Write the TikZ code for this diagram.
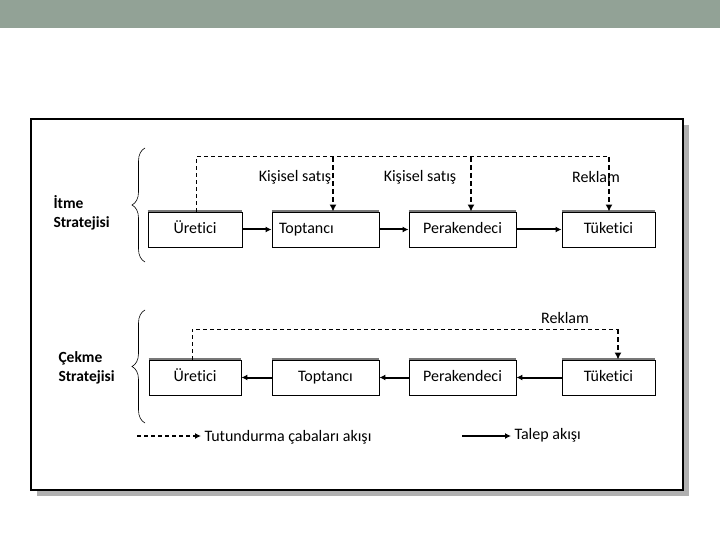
\documentclass[tikz,border=0pt]{standalone}
\usepackage{fontspec}
\setmainfont{Carlito}[Ligatures=NoCommon]
\usetikzlibrary{arrows.meta,decorations.pathreplacing}

\definecolor{bandgray}{RGB}{146,162,150}
\definecolor{shadowgray}{RGB}{176,176,176}
\definecolor{edgegray}{RGB}{120,120,120}

\tikzset{
  kutu/.style={draw=black, line width=0.9pt, fill=white, minimum height=35pt,
    inner sep=0pt, text height=11pt, text depth=3pt, font=\fontsize{16}{18}\selectfont},
  ustkenar/.style={edgegray, line width=2.2pt},
  talep/.style={-{Latex[length=6pt,width=6pt]}, line width=2pt},
  tutun/.style={dashed, dash pattern=on 4pt off 3pt, line width=1pt},
  tutunok/.style={-{Latex[length=7pt,width=7pt]}, dash pattern=on 5pt off 3pt, line width=2.2pt},
  etiket/.style={font=\fontsize{16}{18}\selectfont},
  strateji/.style={font=\bfseries\fontsize{15.5}{19}\selectfont, align=left, anchor=west},
  parantez/.style={decorate, decoration={brace, amplitude=13pt}, line width=0.6pt}
}

\begin{document}
\begin{tikzpicture}[x=1pt, y=-1pt]
	\useasboundingbox (0,0) rectangle (720,540);
	\fill[bandgray] (0,0) rectangle (720,28); % band
	
	% frame with shadow
	\fill[shadowgray] (37,125) rectangle (689,496);
	\draw[fill=white, line width=1.1pt] (31,119) rectangle (683,490);
	
	% itme
	\node[kutu, minimum width=94pt] (u1) at (195,229.5) {Üretici};
	\node[kutu, minimum width=107pt, text width=93pt, align=left] (t1) at (325.5,229.5) {Toptancı};
	\node[kutu, minimum width=107pt] (p1) at (462.5,229.5) {Perakendeci};
	\node[kutu, minimum width=93pt] (k1) at (608.5,229.5) {Tüketici};
	
	% cekme
	\node[kutu, minimum width=92pt] (u2) at (195,377.5) {Üretici};
	\node[kutu, minimum width=107pt] (t2) at (325.5,377.5) {Toptancı};
	\node[kutu, minimum width=107pt] (p2) at (462.5,377.5) {Perakendeci};
	\node[kutu, minimum width=93pt] (k2) at (608.5,377.5) {Tüketici};
	
	\foreach \n in {u1,t1,p1,k1,u2,t2,p2,k2}
		\draw[ustkenar] ([yshift=0.6pt]\n.north west) -- ([yshift=0.6pt]\n.north east);
	
	% talep akisi
	\draw[talep] (u1) -- (t1);
	\draw[talep] (t1) -- (p1);
	\draw[talep] (p1) -- (k1);
	\draw[talep] (t2) -- (u2);
	\draw[talep] (p2) -- (t2);
	\draw[talep] (k2) -- (p2);
	
	% tutundurma (itme)
	\coordinate (d1) at (333,157);
	\coordinate (d2) at (471,157);
	\coordinate (d3) at (609,157);
	\draw[tutun] ([xshift=1pt]u1.north) |- (d3);
	\draw[tutunok] (d1) -- (d1 |- t1.north);
	\draw[tutunok] (d2) -- (d2 |- p1.north);
	\draw[tutunok] (d3) -- (d3 |- k1.north);
	\node[etiket] (ks1) at (295,177) {Kişisel satış};
	\node[etiket] (ks2) at (420,177) {Kişisel satış};
	\node[etiket] (r1) at (596,177) {Reklam};
	
	% tutundurma (cekme)
	\coordinate (d4) at (618,329);
	\draw[tutun] ([xshift=-3pt]u2.north) |- (d4);
	\draw[tutunok] (d4) -- (d4 |- k2.north);
	\node[etiket] (r2) at (565,318) {Reklam};
	
	% parantezler
	\draw[parantez] (145,262) -- (145,148);
	\draw[parantez] (145,423) -- (145,310);
	\node[strateji] (itme) at (50,213) {İtme\\Stratejisi};
	\node[strateji] (cekme) at (55,368) {Çekme\\Stratejisi};
	
	% legend
	\node[etiket, anchor=west] (lg1) at (201,437) {Tutundurma çabaları akışı};
	\node[etiket, anchor=west] (lg2) at (511,435) {Talep akışı};
	\coordinate (l1) at (137,436);
	\coordinate (l2) at (462,436);
	\draw[tutun, -{Latex[length=6pt,width=6pt]}, line width=1.6pt] (l1) -- (l1 -| lg1.west);
	\draw[talep] (l2) -- (l2 -| lg2.west);
\end{tikzpicture}
\end{document}
